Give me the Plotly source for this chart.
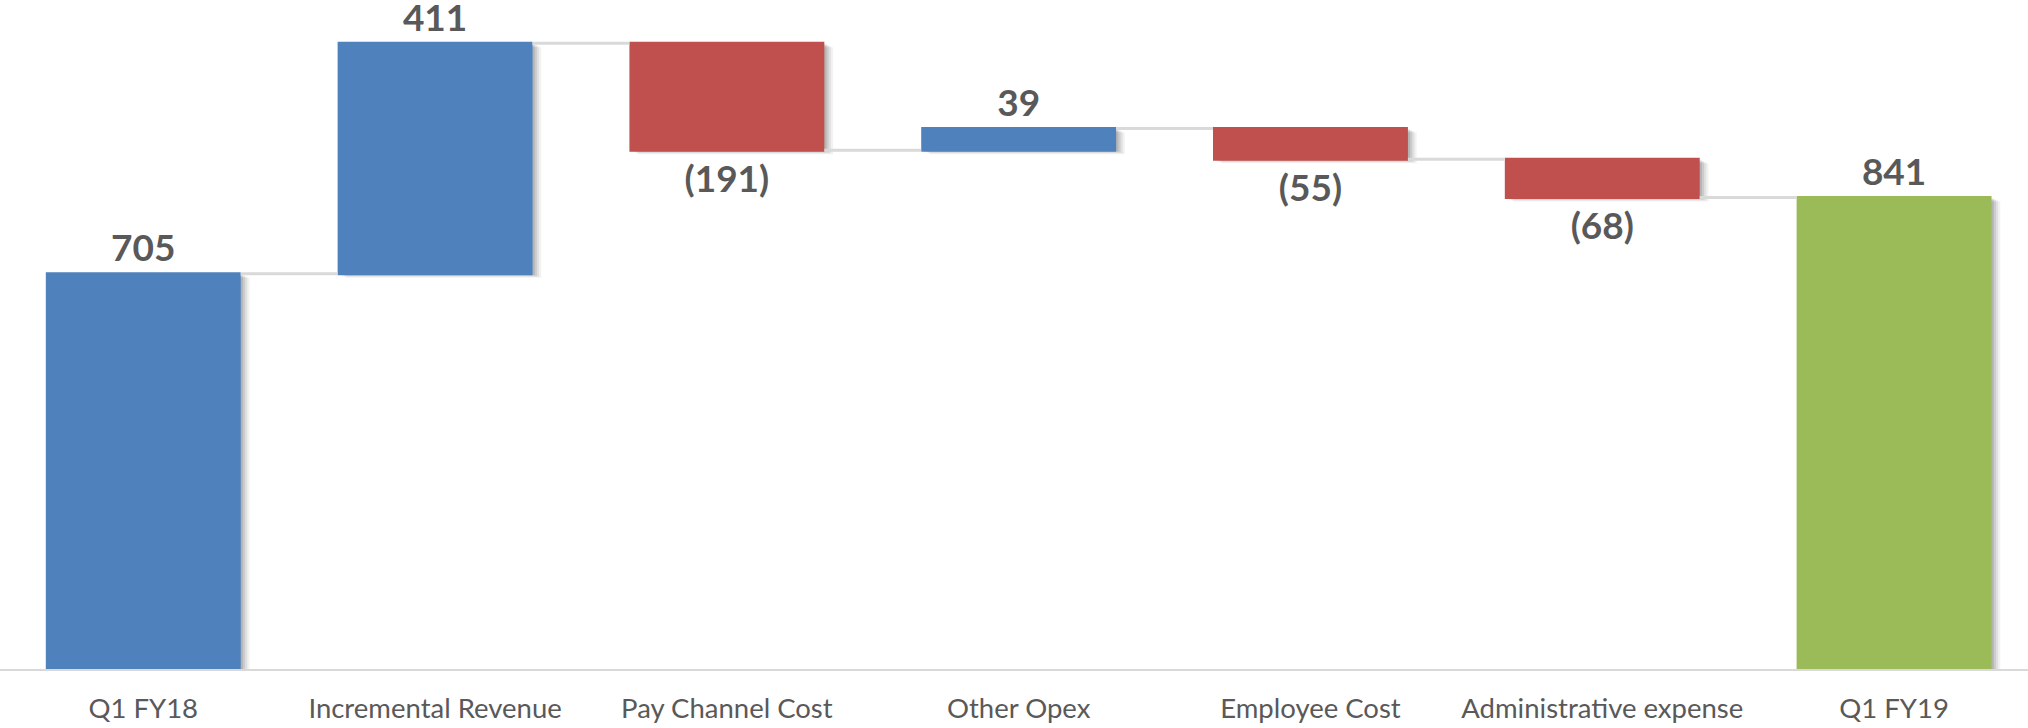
import plotly.graph_objects as go

# Bridge from Q1 FY18 to Q1 FY19
categories = ["Q1 FY18", "Incremental Revenue", "Pay Channel Cost", "Other Opex",
              "Employee Cost", "Administrative expense", "Q1 FY19"]
values = [705, 411, -191, 39, -55, -68, 841]
measures = ["relative", "relative", "relative", "relative", "relative", "relative", "absolute"]


def fmt(v):
    return f"({abs(v)})" if v < 0 else f"{v}"


labels = [fmt(v) for v in values]

BLUE = "#4F81BD"
RED = "#C0504D"
GREEN = "#9BBB59"
TEXT = "#595959"
BAR_W = 0.668

fig = go.Figure()

# soft drop shadow: a few translucent copies nudged right/down
for k, alpha in [(4, 0.05), (3, 0.07), (2, 0.09), (1, 0.11)]:
    shade = f"rgba(0,0,0,{alpha})"
    fig.add_trace(go.Waterfall(
        x=categories, y=values, measure=measures,
        width=BAR_W, offset=-BAR_W / 2 + k * 0.0075, base=-1.8 * k,
        increasing=dict(marker=dict(color=shade)),
        decreasing=dict(marker=dict(color=shade)),
        totals=dict(marker=dict(color=shade)),
        connector=dict(visible=False),
        textinfo="none", hoverinfo="skip", showlegend=False,
    ))

fig.add_trace(go.Waterfall(
    x=categories, y=values, measure=measures,
    width=BAR_W, offset=-BAR_W / 2,
    increasing=dict(marker=dict(color=BLUE)),
    decreasing=dict(marker=dict(color=RED)),
    totals=dict(marker=dict(color=GREEN)),
    connector=dict(mode="between", line=dict(color="#D9D9D9", width=3)),
    text=labels, textposition="outside", textinfo="text",
    textfont=dict(family="Lato", size=37, color=TEXT, weight="bold"),
    constraintext="none", cliponaxis=False, showlegend=False,
))

fig.update_layout(
    width=2028, height=728,
    margin=dict(l=0, r=0, t=0, b=59),
    paper_bgcolor="white", plot_bgcolor="white",
    waterfallmode="overlay",
    font=dict(family="Lato", color=TEXT),
    xaxis=dict(
        type="category", range=[-0.491, 6.459],
        showline=True, linecolor="#D9D9D9", linewidth=2,
        showgrid=False, zeroline=False, ticks="",
        ticklabelstandoff=14,
        tickfont=dict(family="Lato", size=27.5, color=TEXT),
        automargin=False,
    ),
    yaxis=dict(range=[0, 1193], visible=False, automargin=False),
)

fig.write_html("out.html")
